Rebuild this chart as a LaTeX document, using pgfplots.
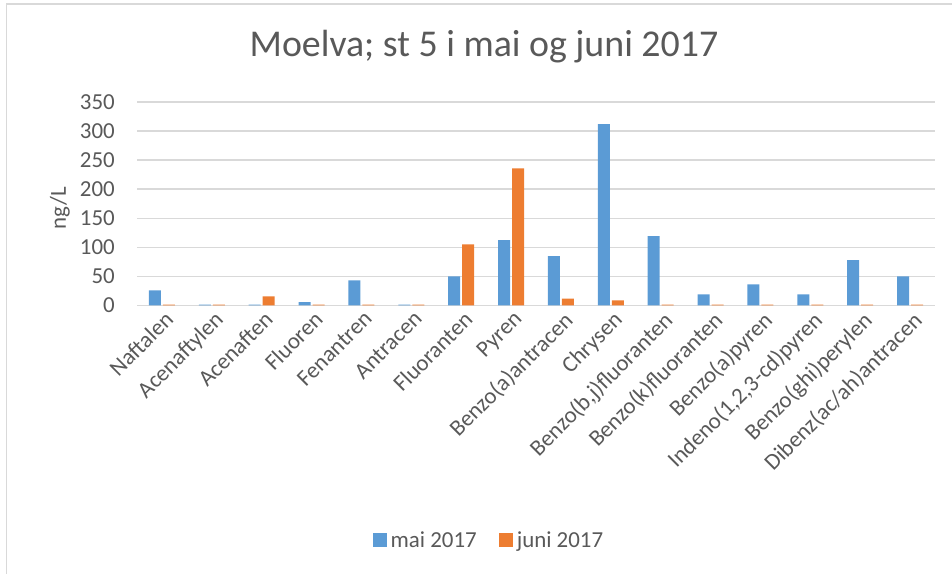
\documentclass[border=0pt]{standalone}
\usepackage{pgfplots}
\pgfplotsset{compat=1.18}
\usepackage{fontspec}
\setmainfont{Carlito}
\definecolor{cblue}{HTML}{5B9BD5}
\definecolor{corange}{HTML}{ED7D31}
\definecolor{cgrid}{HTML}{D9D9D9}
\definecolor{ctext}{HTML}{595959}
\begin{document}
\begin{tikzpicture}[x=1bp,y=1bp]
\useasboundingbox (0,0) rectangle (952,574);
\draw[cgrid, line width=1.5bp] (6.5,0) -- (6.5,570) -- (952,570);
\node[text=ctext, font=\fontsize{38}{44}\selectfont] at (484,527) {Moelva; st 5 i mai og juni 2017};
\node[text=ctext, font=\fontsize{23}{27}\selectfont, rotate=90] at (60,366) {ng/L};
\begin{axis}[
  at={(137bp,268.5bp)}, anchor=south west,
  scale only axis, width=798bp, height=203.5bp,
  clip=false,
  ybar, bar width=12bp,
  xmin=-0.5, xmax=15.5, ymin=0, ymax=350,
  ytick={0,50,...,350},
  yticklabels={},
  xtick={0,...,15},
  xticklabels={Naftalen,Acenaftylen,Acenaften,Fluoren,Fenantren,Antracen,Fluoranten,Pyren,Benzo(a)antracen,Chrysen,Benzo(b{,}j)fluoranten,Benzo(k)fluoranten,Benzo(a)pyren,{Indeno(1,2,3-cd)pyren},Benzo(ghi)perylen,Dibenz(ac/ah)antracen},
  xticklabel style={rotate=45, anchor=north east, inner sep=2bp, yshift=-2bp},
  ticklabel style={text=ctext, font=\fontsize{23}{27}\selectfont},
  major tick length=0pt,
  axis line style={draw=none},
  ymajorgrids, grid style={cgrid, line width=1.5bp},
  legend style={at={(0.441,-1.152)}, anchor=center, draw=none, legend columns=2,
    font=\fontsize{23}{27}\selectfont, text=ctext,
    /tikz/every odd column/.append style={column sep=2bp},
    /tikz/every even column/.append style={column sep=20bp}},
  legend image code/.code={\fill[#1] (0bp,-7bp) rectangle (14bp,7bp);},
]
\addplot[fill=cblue, draw=none, bar shift=-7bp] coordinates {
(0,26) (1,1.5) (2,1.5) (3,5.8) (4,43) (5,1.5) (6,50) (7,112.5) (8,85) (9,312) (10,119.5) (11,19) (12,36.5) (13,19) (14,78) (15,50)};
\addlegendentry{mai 2017}
\addplot[fill=corange, draw=none, bar shift=7bp] coordinates {
(0,1.5) (1,1.5) (2,15.6) (3,1.5) (4,1.5) (5,1.5) (6,105) (7,236) (8,12) (9,8.7) (10,1.5) (11,1.5) (12,1.5) (13,1.5) (14,1.5) (15,1.5)};
\addlegendentry{juni 2017}
\foreach \v in {0,50,...,350} {
  \edef\tmp{\noexpand\node[anchor=east, inner sep=0pt, text=ctext, font=\noexpand\fontsize{23}{27}\noexpand\selectfont] at (axis cs:-0.5,\v) [xshift=-22bp] {\v};}
  \tmp
}
\end{axis}
\end{tikzpicture}
\end{document}
